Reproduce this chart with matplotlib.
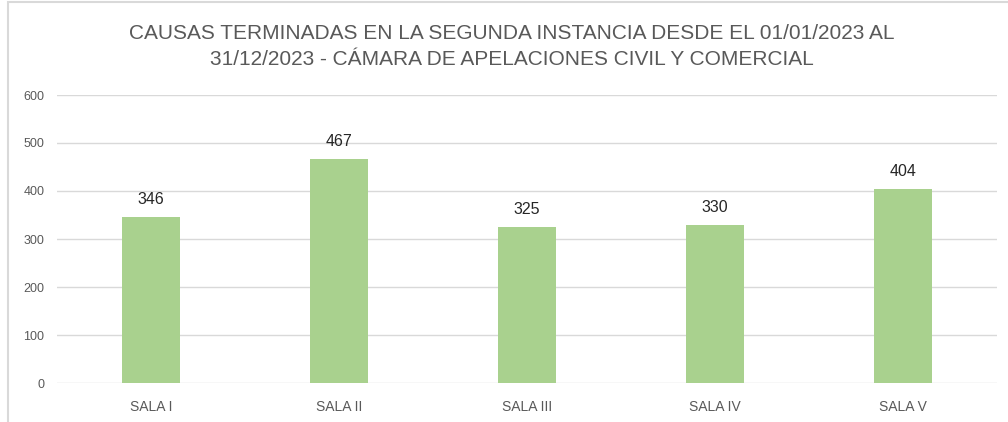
import matplotlib.pyplot as plt
from matplotlib.patches import Rectangle

salas = ["SALA I", "SALA II", "SALA III", "SALA IV", "SALA V"]
causas = [346, 467, 325, 330, 404]
yticks = [0, 100, 200, 300, 400, 500, 600]

plt.rcParams['font.family'] = ['Liberation Sans Narrow', 'Liberation Sans', 'DejaVu Sans']

fig = plt.figure(figsize=(10.08, 4.22), dpi=100)
ax = fig.add_axes([57 / 1008, 1 - 383 / 422, 940 / 1008, 288 / 422])

# outer chart frame (partially cropped in the original)
fig.patches.append(Rectangle((8 / 1008, -0.1), 1.2, 1 - 1.5 / 422 + 0.1,
                             transform=fig.transFigure, fill=False,
                             edgecolor="#D9D9D9", linewidth=1.5))

bars = ax.bar(salas, causas, width=0.31, color="#A9D18E", zorder=3)
for b, v in zip(bars, causas):
    ax.annotate(str(v), (b.get_x() + b.get_width() / 2, v), xytext=(0, 7),
                textcoords="offset points", ha="center", va="bottom",
                fontsize=11.5, color="#262626")

ax.set_ylim(0, 600)
ax.set_xlim(-0.5, 4.5)
ax.set_yticks(yticks)
ax.yaxis.grid(True, color="#D9D9D9", linewidth=1)
ax.set_axisbelow(True)
for s in ax.spines.values():
    s.set_visible(False)
ax.tick_params(length=0, colors="#595959")
ax.tick_params(axis="x", pad=12, labelsize=10)
ax.tick_params(axis="y", pad=9, labelsize=9)

fig.text(0.508, 0.89, "CAUSAS TERMINADAS EN LA SEGUNDA INSTANCIA DESDE EL 01/01/2023 AL\n"
         "31/12/2023 - CÁMARA DE APELACIONES CIVIL Y COMERCIAL",
         ha="center", va="center", fontsize=15, color="#595959", linespacing=1.45)

fig.savefig("out.png", dpi=100, facecolor="white")
